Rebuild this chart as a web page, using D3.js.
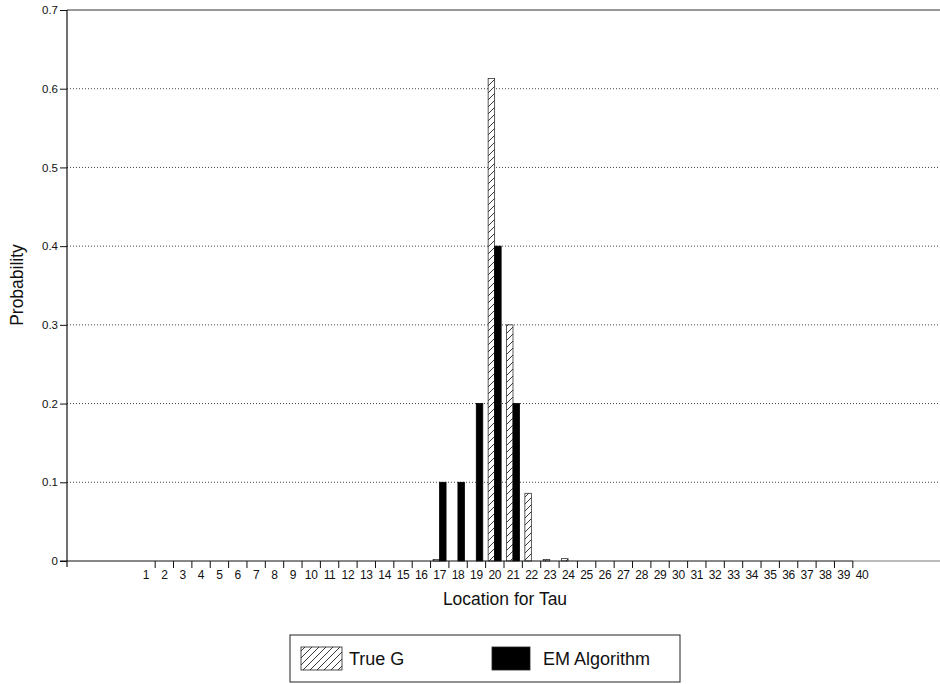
<!DOCTYPE html>
<html>
<head>
<meta charset="utf-8">
<script src="https://d3js.org/d3.v7.min.js"></script>
<style>
  body { margin:0; background:#fff; }
  text { font-family: "Liberation Sans", Arial, sans-serif; fill:#111; }
</style>
</head>
<body>
<script>
  // categories 1..40
  const locations = d3.range(1, 41);
  const seriesNames = ["True G", "EM Algorithm"];
  // values (location -> probability), everything else 0
  const trueG = { 17: 0.002, 20: 0.613, 21: 0.300, 22: 0.086, 23: 0.002, 24: 0.003 };
  const emAlg = { 17: 0.1, 18: 0.1, 19: 0.2, 20: 0.4, 21: 0.2 };
  const yTicks = [0, 0.1, 0.2, 0.3, 0.4, 0.5, 0.6, 0.7];

  const width = 940, height = 684;
  const plotLeft = 67, plotRight = 940, plotTop = 10, plotBottom = 561;

  const svg = d3.select("body").append("svg")
    .attr("width", width).attr("height", height);

  const defs = svg.append("defs");
  const pat = defs.append("pattern")
    .attr("id", "hatch")
    .attr("patternUnits", "userSpaceOnUse")
    .attr("width", 7).attr("height", 7);
  pat.append("rect").attr("width", 7).attr("height", 7).attr("fill", "#fff");
  pat.append("path").attr("d", "M-1,8 L8,-1 M-2,2 L2,-2 M5,9 L9,5")
    .attr("stroke", "#222").attr("stroke-width", 0.9);

  const x = d3.scaleBand().domain(locations).range([136.8, 871.2]);
  const xInner = d3.scaleBand().domain(seriesNames).range([2.5, 15.5]);
  const y = d3.scaleLinear().domain([0, 0.7]).range([plotBottom, plotTop]);

  // grid lines
  svg.append("g").selectAll("line")
    .data(yTicks.filter(t => t > 0 && t < 0.7))
    .join("line")
    .attr("x1", plotLeft).attr("x2", plotRight)
    .attr("y1", d => y(d)).attr("y2", d => y(d))
    .attr("stroke", "#444").attr("stroke-width", 1)
    .attr("stroke-dasharray", "1,2");

  // top frame line
  svg.append("line")
    .attr("x1", plotLeft).attr("x2", plotRight)
    .attr("y1", y(0.7)).attr("y2", y(0.7))
    .attr("stroke", "#333").attr("stroke-width", 1.2);

  // bars
  const rows = [];
  locations.forEach(loc => {
    if (trueG[loc]) rows.push({ loc, s: "True G", v: trueG[loc] });
    if (emAlg[loc]) rows.push({ loc, s: "EM Algorithm", v: emAlg[loc] });
  });
  svg.append("g").selectAll("rect")
    .data(rows)
    .join("rect")
    .attr("x", d => x(d.loc) + xInner(d.s))
    .attr("width", xInner.bandwidth())
    .attr("y", d => y(d.v))
    .attr("height", d => plotBottom - y(d.v))
    .attr("fill", d => d.s === "True G" ? "url(#hatch)" : "#000")
    .attr("stroke", d => d.s === "True G" ? "#333" : "#000")
    .attr("stroke-width", 0.8);

  // y axis
  const yAxis = d3.axisLeft(y).tickValues(yTicks)
    .tickFormat(d => d === 0 ? "0" : d3.format(".1f")(d))
    .tickSize(7).tickPadding(2);
  const gy = svg.append("g")
    .attr("transform", `translate(${plotLeft},0)`)
    .call(yAxis);
  gy.select(".domain").remove();
  gy.append("line").attr("x1", 0).attr("x2", 0)
    .attr("y1", plotTop).attr("y2", plotBottom + 6)
    .attr("stroke", "#111").attr("stroke-width", 1.2);
  gy.selectAll(".tick line").attr("stroke", "#111");
  gy.selectAll(".tick text").style("font-size", "11.5px").attr("fill", "#111");

  // x axis: ticks between categories
  const gx = svg.append("g").attr("transform", `translate(0,${plotBottom})`);
  gx.append("line").attr("x1", 60).attr("x2", 853)
    .attr("stroke", "#111").attr("stroke-width", 1.2);
  gx.append("line").attr("x1", 853).attr("x2", plotRight)
    .attr("stroke", "#777").attr("stroke-width", 1);
  gx.selectAll("line.tk")
    .data(locations.slice(1))
    .join("line").attr("class", "tk")
    .attr("x1", d => x(d)).attr("x2", d => x(d))
    .attr("y1", 0).attr("y2", 7)
    .attr("stroke", "#111").attr("stroke-width", 1);
  gx.selectAll("text")
    .data(locations)
    .join("text")
    .attr("x", d => x(d) + x.bandwidth() / 2)
    .attr("y", 18)
    .attr("text-anchor", "middle")
    .style("font-size", "12px")
    .style("letter-spacing", "-0.3px")
    .text(d => d);

  // axis titles
  svg.append("text")
    .attr("x", 505).attr("y", 605)
    .attr("text-anchor", "middle")
    .style("font-size", "17.5px")
    .text("Location for Tau");
  svg.append("text")
    .attr("transform", "translate(23,285) rotate(-90)")
    .attr("text-anchor", "middle")
    .style("font-size", "17.5px")
    .text("Probability");

  // legend
  const lg = svg.append("g");
  lg.append("rect")
    .attr("x", 290).attr("y", 635).attr("width", 390).attr("height", 47)
    .attr("fill", "none").attr("stroke", "#222").attr("stroke-width", 1);
  const legendItems = [
    { name: seriesNames[0], fill: "url(#hatch)", sx: 301, sw: 41, tx: 349 },
    { name: seriesNames[1], fill: "#000", sx: 492, sw: 38, tx: 543 }
  ];
  legendItems.forEach(it => {
    lg.append("rect")
      .attr("x", it.sx).attr("y", 647).attr("width", it.sw).attr("height", 23)
      .attr("fill", it.fill).attr("stroke", "#222").attr("stroke-width", 0.8);
    lg.append("text")
      .attr("x", it.tx).attr("y", 665)
      .style("font-size", "18px")
      .text(it.name);
  });
</script>
</body>
</html>
